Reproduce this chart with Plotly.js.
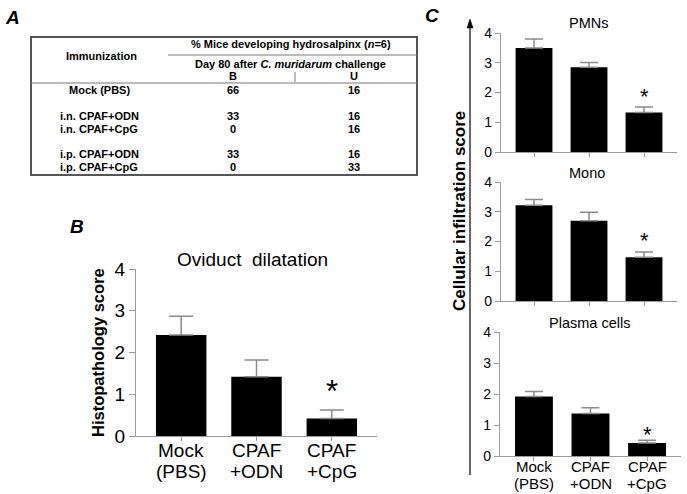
<!DOCTYPE html>
<html><head><meta charset="utf-8">
<script src="https://cdn.plot.ly/plotly-3.0.1.min.js"></script>
<style>html,body{margin:0;padding:0;background:#fff}#c{width:687px;height:494px}</style>
</head><body><div id="c"></div>
<script>
// ---- data ----
const groups = ["Mock<br>(PBS)", "CPAF<br>+ODN", "CPAF<br>+CpG"];
const oviductMean = [2.42, 1.42, 0.42];
const oviductSem = [0.45, 0.40, 0.20];
const pmnMean = [3.50, 2.85, 1.33];
const pmnSem = [0.30, 0.16, 0.18];
const monoMean = [3.22, 2.70, 1.47];
const monoSem = [0.19, 0.28, 0.18];
const plasmaMean = [1.92, 1.37, 0.42];
const plasmaSem = [0.16, 0.19, 0.09];
const tableRows = ["Mock (PBS)", "i.n. CPAF+ODN", "i.n. CPAF+CpG", "i.p. CPAF+ODN", "i.p. CPAF+CpG"];
const tableB = [66, 33, 0, 33, 0];
const tableU = [16, 16, 16, 16, 33];

const W = 687, H = 494;
const px = x => x / W, py = y => 1 - y / H;
const FONT = "Liberation Sans, Arial, sans-serif";
const axisGray = "#9a9a9a";

function barTrace(mean, sem, xa, ya, capw) {
  return {
    type: "bar", x: groups, y: mean, xaxis: xa, yaxis: ya,
    marker: {color: "#000", line: {width: 0}}, width: 0.67,
    error_y: {type: "data", symmetric: false, array: sem, arrayminus: sem.map(() => 0),
              color: "#8a8a8a", thickness: 1.5, width: capw},
    hoverinfo: "none", showlegend: false
  };
}

const data = [
  barTrace(oviductMean, oviductSem, "x", "y", 12),
  barTrace(pmnMean, pmnSem, "x2", "y2", 9),
  barTrace(monoMean, monoSem, "x3", "y3", 9),
  barTrace(plasmaMean, plasmaSem, "x4", "y4", 9)
];

function yax(d0, d1, fs, anchor, tl) {
  return {domain: [py(d1), py(d0)], range: [0, 4], dtick: 1, anchor: anchor,
    showline: true, linecolor: axisGray, linewidth: 1.2, ticks: "outside", ticklen: tl,
    tickcolor: axisGray, showgrid: false, zeroline: false,
    tickfont: {family: FONT, size: fs, color: "#000"}, fixedrange: true};
}
function xax(l, r, anchor) {
  return {domain: [px(l), px(r)], range: [-0.6, 2.6], anchor: anchor, type: "category",
    showline: true, linecolor: axisGray, linewidth: 1.2, ticks: "outside", ticklen: 4,
    tickcolor: axisGray, showgrid: false, zeroline: false, showticklabels: false,
    fixedrange: true};
}

const ann = [];
const shapes = [];
function txt(x, y, t, size, opts) {
  ann.push(Object.assign({xref: "paper", yref: "paper", x: px(x), y: py(y), text: t,
    showarrow: false, xanchor: "center", yanchor: "middle",
    font: {family: FONT, size: size, color: "#000"}}, opts || {}));
}
// category tick labels, drawn line by line for tight spacing
function catLabels(xa, y1, y2, size) {
  groups.forEach(g => {
    const parts = g.split("<br>");
    [y1, y2].forEach((yy, k) => {
      ann.push({xref: xa, yref: "paper", x: g, y: py(yy), text: parts[k], showarrow: false,
        borderpad: 0, xanchor: "center", yanchor: "middle",
        font: {family: FONT, size: size, color: "#000"}});
    });
  });
}

// Panel letters
txt(12, 17, "<b><i>A</i></b>", 19);
txt(77, 226, "<b><i>B</i></b>", 19);
txt(432, 15, "<b><i>C</i></b>", 19);

// Table A
shapes.push({type: "rect", xref: "paper", yref: "paper", x0: px(31), x1: px(417), y0: py(37), y1: py(175),
  line: {color: "#555", width: 2}});
shapes.push({type: "line", xref: "paper", yref: "paper", x0: px(168), x1: px(417), y0: py(55), y1: py(55),
  line: {color: "#777", width: 1}});
shapes.push({type: "line", xref: "paper", yref: "paper", x0: px(31), x1: px(417), y0: py(83), y1: py(83),
  line: {color: "#777", width: 1}});
shapes.push({type: "line", xref: "paper", yref: "paper", x0: px(295), x1: px(295), y0: py(72), y1: py(82),
  line: {color: "#777", width: 1}});
const TF = 11;
txt(291, 44, "<b>% Mice developing hydrosalpinx (<i>n</i>=6)</b>", TF);
txt(101, 56, "<b>Immunization</b>", TF);
txt(290, 64, "<b>Day 80 after <i>C. muridarum</i> challenge</b>", TF);
txt(233, 76, "<b>B</b>", TF);
txt(354, 76, "<b>U</b>", TF);
const rowY = [90, 116, 129, 154, 167];
tableRows.forEach((r, i) => {
  txt(99, rowY[i], "<b>" + r + "</b>", TF);
  txt(233, rowY[i], "<b>" + tableB[i] + "</b>", TF);
  txt(354, rowY[i], "<b>" + tableU[i] + "</b>", TF);
});

// Panel B titles
txt(252, 259, "Oviduct  dilatation", 19);
txt(98, 353, "<b>Histopathology score</b>", 16.5, {textangle: -90});
catLabels("x", 450, 471, 19);

// Panel C titles
txt(588, 23, "PMNs", 14.5);
txt(587, 173, "Mono", 14.5);
txt(589, 323, "Plasma cells", 14.5);
txt(459, 211, "<b>Cellular infiltration score</b>", 17, {textangle: -90});
catLabels("x4", 466, 483, 15);

// Arrow for C
shapes.push({type: "line", xref: "paper", yref: "paper", x0: px(470), x1: px(470), y0: py(26), y1: py(475),
  line: {color: "#000", width: 1.2}});
shapes.push({type: "path", xref: "paper", yref: "paper",
  path: `M ${px(470)} ${py(19)} L ${px(467)} ${py(28)} L ${px(473)} ${py(28)} Z`,
  fillcolor: "#000", line: {color: "#000", width: 0.5}});

// asterisks via data coordinates
function star(xa, ya, mean, sem, size, shift) {
  ann.push({xref: xa, yref: ya, x: groups[2], y: mean[2] + sem[2], text: "*", showarrow: false,
    yanchor: "bottom", yshift: shift, font: {family: FONT, size: size, color: "#000"}});
}
star("x", "y", oviductMean, oviductSem, 31, -1);
star("x2", "y2", pmnMean, pmnSem, 22, -4);
star("x3", "y3", monoMean, monoSem, 22, -3);
star("x4", "y4", plasmaMean, plasmaSem, 22, -9);

const layout = {
  width: W, height: H, margin: {l: 0, r: 0, t: 0, b: 0},
  paper_bgcolor: "#fff", plot_bgcolor: "rgba(0,0,0,0)", showlegend: false,
  xaxis: xax(136, 377, "y"),
  yaxis: yax(269, 436, 19, "x", 6),
  xaxis2: xax(501, 677, "y2"),
  yaxis2: yax(33, 152, 14, "x2", 5),
  xaxis3: xax(501, 677, "y3"),
  yaxis3: yax(182, 301, 14, "x3", 5),
  xaxis4: xax(500, 681, "y4"),
  yaxis4: yax(332, 456, 14, "x4", 5),
  annotations: ann, shapes: shapes
};
Plotly.newPlot("c", data, layout, {staticPlot: true, displayModeBar: false});
</script></body></html>
